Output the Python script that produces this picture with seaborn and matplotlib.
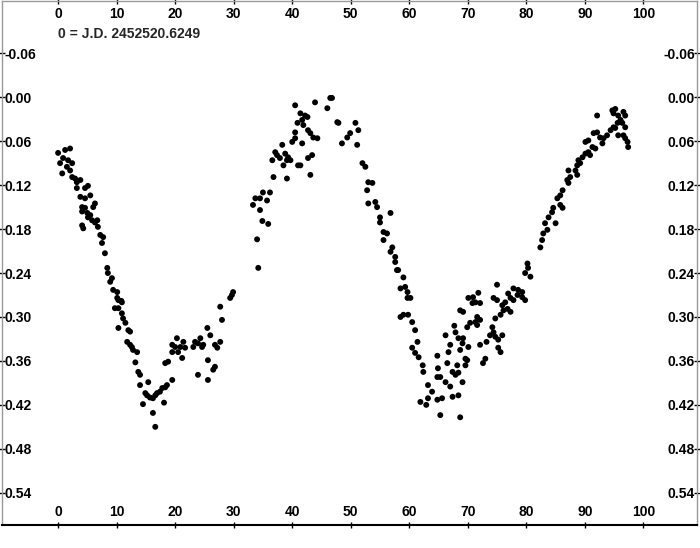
import numpy as np
import pandas as pd
import seaborn as sns
import matplotlib
matplotlib.use("Agg")
import matplotlib.pyplot as plt

# phase (days from J.D. 2452520.6249) and differential magnitude
phase_a = [0.0, 1.2, 2.05, 0.34, 0.85, 1.7, 2.4, 1.5, 0.7, 2.05, 2.4, 2.9, 3.2, 3.8, 3.2, 4.6,
           5.1, 3.8, 4.6, 5.5, 6.3, 6.0, 4.1, 4.6, 4.1, 5.0, 5.5, 5.1, 5.8, 6.3, 6.7, 4.1,
           4.3, 6.8, 7.2, 7.7, 7.5, 8.0, 8.4, 8.5, 9.2, 8.9, 9.4, 10.1, 10.1, 10.8]
dmag_a = [0.076, 0.072, 0.070, 0.090, 0.083, 0.086, 0.090, 0.095, 0.104, 0.100, 0.109, 0.111,
          0.116, 0.113, 0.124, 0.124, 0.121, 0.136, 0.138, 0.134, 0.145, 0.150, 0.150, 0.151,
          0.156, 0.158, 0.161, 0.164, 0.168, 0.171, 0.168, 0.175, 0.179, 0.177, 0.188, 0.191,
          0.199, 0.213, 0.233, 0.240, 0.247, 0.252, 0.263, 0.266, 0.274, 0.278]

phase_b = [10.3, 10.9, 9.7, 10.3, 10.9, 11.1, 11.5, 10.3, 12.0, 12.3, 11.8, 12.3, 12.6, 12.8,
           13.5, 13.2, 13.7, 14.0, 14.0, 15.4, 14.9, 15.2, 15.7, 16.2, 16.6, 16.9, 17.4, 17.8,
           18.3, 18.6, 14.5, 16.2, 18.1, 16.6, 19.5, 18.3, 18.8, 19.5, 20.0, 20.3, 20.9, 20.5,
           21.4, 21.7, 21.2, 19.5, 23.1, 23.4, 23.9, 24.3, 24.6, 24.8, 25.5, 26.0, 26.8, 27.2,
           27.7, 23.9, 25.6, 26.8, 26.5, 25.6, 27.7, 28.0, 29.4, 29.7, 29.9]
dmag_b = [0.277, 0.280, 0.288, 0.288, 0.295, 0.302, 0.308, 0.315, 0.318, 0.320, 0.334, 0.338,
          0.341, 0.345, 0.348, 0.362, 0.375, 0.379, 0.393, 0.389, 0.404, 0.407, 0.410, 0.411,
          0.407, 0.404, 0.402, 0.397, 0.396, 0.393, 0.419, 0.431, 0.417, 0.450, 0.386, 0.363,
          0.361, 0.338, 0.341, 0.329, 0.341, 0.348, 0.334, 0.342, 0.356, 0.348, 0.341, 0.334,
          0.336, 0.329, 0.341, 0.338, 0.315, 0.325, 0.338, 0.342, 0.334, 0.379, 0.359, 0.368,
          0.372, 0.386, 0.286, 0.304, 0.274, 0.270, 0.266]

phase_c = [34.2, 34.0, 34.9, 35.9, 34.5, 33.3, 33.7, 34.5, 35.0, 36.2, 35.7, 36.8, 39.1, 36.6,
           37.1, 37.4, 37.9, 38.3, 38.5, 39.1, 39.7, 38.8, 39.3, 40.0, 40.5, 41.4, 40.5, 40.9,
           40.5, 41.4, 41.7, 42.2, 41.9, 42.6, 42.7, 43.1, 43.6, 44.3, 41.7, 42.7, 43.4, 43.1,
           41.0, 43.9, 46.0, 46.5, 46.8, 47.7, 47.9, 50.8, 51.3, 49.9, 49.4, 48.5, 51.1, 52.0,
           52.5, 53.0, 53.7, 52.8, 53.0, 54.2, 54.5, 56.8, 55.0, 55.0, 55.6, 56.2, 55.6, 57.1,
           56.8, 57.6, 57.6, 58.1, 59.0]
dmag_c = [0.233, 0.194, 0.169, 0.173, 0.154, 0.147, 0.138, 0.138, 0.130, 0.130, 0.141, 0.109,
          0.111, 0.086, 0.075, 0.079, 0.083, 0.065, 0.093, 0.086, 0.086, 0.077, 0.082, 0.061,
          0.056, 0.093, 0.048, 0.035, 0.011, 0.022, 0.031, 0.025, 0.038, 0.027, 0.045, 0.049,
          0.055, 0.056, 0.063, 0.083, 0.079, 0.106, 0.093, 0.007, 0.015, 0.001, 0.001, 0.034,
          0.035, 0.035, 0.045, 0.049, 0.055, 0.063, 0.065, 0.090, 0.095, 0.116, 0.117, 0.127,
          0.145, 0.143, 0.150, 0.158, 0.164, 0.171, 0.184, 0.186, 0.195, 0.205, 0.211, 0.218,
          0.225, 0.236, 0.246]

phase_d = [57.9, 58.5, 59.3, 59.7, 59.7, 60.2, 58.5, 59.0, 59.8, 60.5, 61.0, 61.4, 60.5, 61.0,
           61.6, 62.3, 62.4, 64.8, 64.9, 64.8, 65.3, 63.2, 63.9, 63.2, 61.9, 62.9, 64.8, 65.6,
           65.3, 67.4, 68.4, 68.7, 66.2, 67.0, 69.1, 67.4, 67.9, 68.4, 66.5, 68.2, 69.6, 69.6,
           66.7, 67.0, 68.7, 69.1, 66.2, 67.9, 68.4, 69.2, 70.1, 67.7, 68.7, 69.9, 70.4, 70.1,
           70.8, 70.9, 71.8, 71.3, 71.6]
dmag_d = [0.236, 0.261, 0.259, 0.266, 0.274, 0.274, 0.300, 0.297, 0.297, 0.307, 0.318, 0.334,
          0.342, 0.349, 0.355, 0.366, 0.375, 0.353, 0.370, 0.382, 0.382, 0.393, 0.402, 0.411,
          0.416, 0.420, 0.413, 0.411, 0.434, 0.409, 0.407, 0.437, 0.389, 0.395, 0.389, 0.375,
          0.379, 0.376, 0.363, 0.366, 0.357, 0.366, 0.348, 0.338, 0.345, 0.336, 0.325, 0.321,
          0.329, 0.329, 0.341, 0.312, 0.291, 0.314, 0.308, 0.274, 0.281, 0.273, 0.267, 0.307,
          0.311]

phase_e = [80.2, 80.3, 79.8, 80.7, 75.0, 77.8, 78.6, 79.3, 78.5, 76.9, 79.8, 79.3, 77.3, 77.8,
           74.4, 75.0, 76.4, 75.9, 76.1, 76.8, 77.3, 75.6, 74.7, 71.3, 72.1, 71.6, 72.1, 69.2,
           74.2, 74.4, 73.8, 74.7, 75.2, 75.9, 72.1, 73.2, 75.2, 75.6, 73.0, 72.6, 69.9]
dmag_e = [0.227, 0.233, 0.240, 0.245, 0.256, 0.261, 0.263, 0.266, 0.270, 0.268, 0.277, 0.273,
          0.274, 0.277, 0.274, 0.277, 0.280, 0.284, 0.291, 0.289, 0.293, 0.297, 0.302, 0.280,
          0.281, 0.300, 0.304, 0.293, 0.314, 0.321, 0.325, 0.327, 0.331, 0.325, 0.338, 0.334,
          0.342, 0.348, 0.357, 0.363, 0.359]

phase_f = [82.4, 82.7, 82.9, 83.6, 83.2, 83.8, 85.0, 84.4, 84.6, 86.2, 85.8, 85.3, 85.8, 86.2,
           87.2, 87.0, 87.5, 88.4, 88.7, 87.2, 88.7, 89.2, 88.9, 89.6, 90.1, 90.6, 90.9, 91.3,
           91.8, 90.1, 90.6, 91.5, 92.1, 92.6, 93.2, 92.1, 93.0, 93.8, 94.4, 94.9, 95.2, 94.7,
           95.2, 94.9, 95.7, 96.6, 96.9, 96.1, 95.6, 96.4, 96.9, 95.7, 96.6, 97.3, 97.4, 96.9]
dmag_f = [0.205, 0.195, 0.186, 0.181, 0.172, 0.164, 0.172, 0.157, 0.151, 0.151, 0.147, 0.138,
          0.134, 0.127, 0.117, 0.113, 0.109, 0.100, 0.106, 0.100, 0.093, 0.090, 0.086, 0.082,
          0.077, 0.075, 0.079, 0.068, 0.070, 0.061, 0.059, 0.049, 0.048, 0.055, 0.056, 0.025,
          0.063, 0.052, 0.045, 0.041, 0.042, 0.018, 0.016, 0.022, 0.025, 0.020, 0.025, 0.031,
          0.035, 0.035, 0.041, 0.052, 0.052, 0.061, 0.068, 0.056]

x_ticks = [0, 10, 20, 30, 40, 50, 60, 70, 80, 90, 100]
y_ticks = [-0.06, 0.00, 0.06, 0.12, 0.18, 0.24, 0.30, 0.36, 0.42, 0.48, 0.54]
note = "0 = J.D. 2452520.6249"

df = pd.DataFrame({
    "phase": phase_a + phase_b + phase_c + phase_d + phase_e + phase_f,
    "dmag": dmag_a + dmag_b + dmag_c + dmag_d + dmag_e + dmag_f,
})

sns.set_style("white")
plt.rcParams["font.family"] = ["Liberation Sans", "DejaVu Sans"]
plt.rcParams["font.weight"] = "bold"

fig = plt.figure(figsize=(7, 5.48), dpi=100)
ax = fig.add_axes([0.003, 0.042, 0.993, 0.957])

sns.scatterplot(data=df, x="phase", y="dmag", color="black", edgecolor="none",
                s=18, ax=ax, legend=False)

ax.set_xlim(-9.57, 109.2)
ax.set_ylim(0.584, -0.132)
ax.set_xlabel("")
ax.set_ylabel("")

ax.set_xticks(x_ticks)
ax.set_xticklabels([str(t) for t in x_ticks])
ax.set_yticks(y_ticks)
ax.set_yticklabels([f"{t:.2f}" for t in y_ticks])

ax.tick_params(axis="x", which="both", top=True, bottom=True, labeltop=True,
               labelbottom=True, direction="inout", length=5, width=1,
               pad=-17, labelsize=10, colors="black")
ax.tick_params(axis="y", which="both", left=True, right=True, labelleft=True,
               labelright=True, direction="inout", length=5, width=1,
               pad=-4, labelsize=10, colors="black")

for tick in ax.yaxis.get_major_ticks():
    tick.label1.set_horizontalalignment("left")
    tick.label2.set_horizontalalignment("right")
    tick.label1.set_fontweight("bold")
    tick.label2.set_fontweight("bold")
for tick in ax.xaxis.get_major_ticks():
    tick.label1.set_fontweight("bold")
    tick.label2.set_fontweight("bold")

for side in ["left", "right", "top"]:
    ax.spines[side].set_color("#9a9a9a")
    ax.spines[side].set_linewidth(1)
ax.spines["bottom"].set_color("black")
ax.spines["bottom"].set_linewidth(1.5)

ax.text(0, -0.086, note, fontsize=10, fontweight="bold", ha="left", va="center")

fig.savefig("out.png", dpi=100)
